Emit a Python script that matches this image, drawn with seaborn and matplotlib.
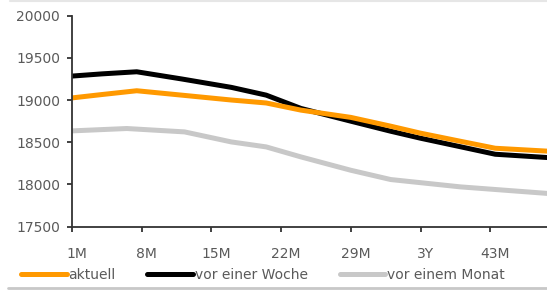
import numpy as np
import pandas as pd
import matplotlib
matplotlib.use("Agg")
import matplotlib.pyplot as plt
import matplotlib.transforms as mtransforms
from matplotlib.lines import Line2D
import seaborn as sns

# months to maturity
months_curve = [1, 4, 7.5, 12, 17, 20.5, 24, 29, 33, 36, 40, 43.5, 49]
aktuell = [19025, 19065, 19110, 19058, 19000, 18965, 18880, 18794, 18690, 18607, 18511, 18428, 18392]
vor_woche = [19284, 19310, 19335, 19250, 19150, 19058, 18900, 18749, 18630, 18547, 18446, 18357, 18316]
months_monat = [1, 6.5, 12.3, 17, 20.5, 24, 29, 33, 40, 49]
vor_monat = [18634, 18662, 18622, 18503, 18444, 18325, 18167, 18057, 17970, 17890]

series_names = ["aktuell", "vor einer Woche", "vor einem Monat"]
colors = ["#FF9900", "#000000", "#C8C8C8"]
tick_months = [1, 8, 15, 22, 29, 36, 43]
tick_labels = ["1M", "8M", "15M", "22M", "29M", "3Y", "43M"]
y_ticks = [17500, 18000, 18500, 19000, 19500, 20000]

df = pd.concat([
    pd.DataFrame({"m": months_curve, "v": aktuell, "s": series_names[0]}),
    pd.DataFrame({"m": months_curve, "v": vor_woche, "s": series_names[1]}),
    pd.DataFrame({"m": months_monat, "v": vor_monat, "s": series_names[2]}),
])

sns.set_style("white")
plt.rcParams["font.family"] = ["DejaVu Sans"]

fig = plt.figure(figsize=(5.47, 2.98), dpi=100)
ax = fig.add_axes([72 / 547, 71.5 / 298, 475 / 547, 210.8 / 298])

# draw grey first so orange/black sit on top
order = [series_names[2], series_names[1], series_names[0]]
sns.lineplot(data=df, x="m", y="v", hue="s", hue_order=order,
             palette=dict(zip(series_names, colors)), estimator=None,
             linewidth=3.6, ax=ax, legend=False)

ax.set_xlim(1, 48.7)
ax.set_ylim(17500, 20000)
ax.set_xticks(tick_months)
ax.set_xticklabels(tick_labels)
ax.set_yticks(y_ticks)
ax.set_xlabel("")
ax.set_ylabel("")

for side in ["top", "right"]:
    ax.spines[side].set_visible(False)
for side in ["left", "bottom"]:
    ax.spines[side].set_color("#333333")
    ax.spines[side].set_linewidth(1.3)

ax.tick_params(axis="both", which="both", direction="out", length=3.5, width=1.3,
               color="#333333", labelsize=10, labelcolor="#5a5a5a")
ax.tick_params(axis="y", pad=5)
ax.tick_params(axis="x", pad=11)
ax.tick_params(left=True, bottom=True)

offset = mtransforms.ScaledTranslation(5 / 100, 0, fig.dpi_scale_trans)
for lab in ax.get_xticklabels():
    lab.set_transform(lab.get_transform() + offset)

handles = [Line2D([], [], color=c, lw=3.6) for c in colors]
fig.legend(handles, series_names, loc="center left", bbox_to_anchor=(21 / 547, 23 / 298),
           ncol=3, frameon=False, handlelength=3.3, handletextpad=0.1,
           columnspacing=2.3, borderpad=0, borderaxespad=0,
           prop={"size": 10}, labelcolor="#5a5a5a")

# light frame lines of the source page
fig.add_artist(Line2D([10 / 547, 1], [297 / 298, 297 / 298], color="#E6E6E6", lw=1.5))
fig.add_artist(Line2D([8 / 547, 1], [10 / 298, 10 / 298], color="#C8C8C8", lw=2.0))

fig.savefig("out.png", dpi=100)
